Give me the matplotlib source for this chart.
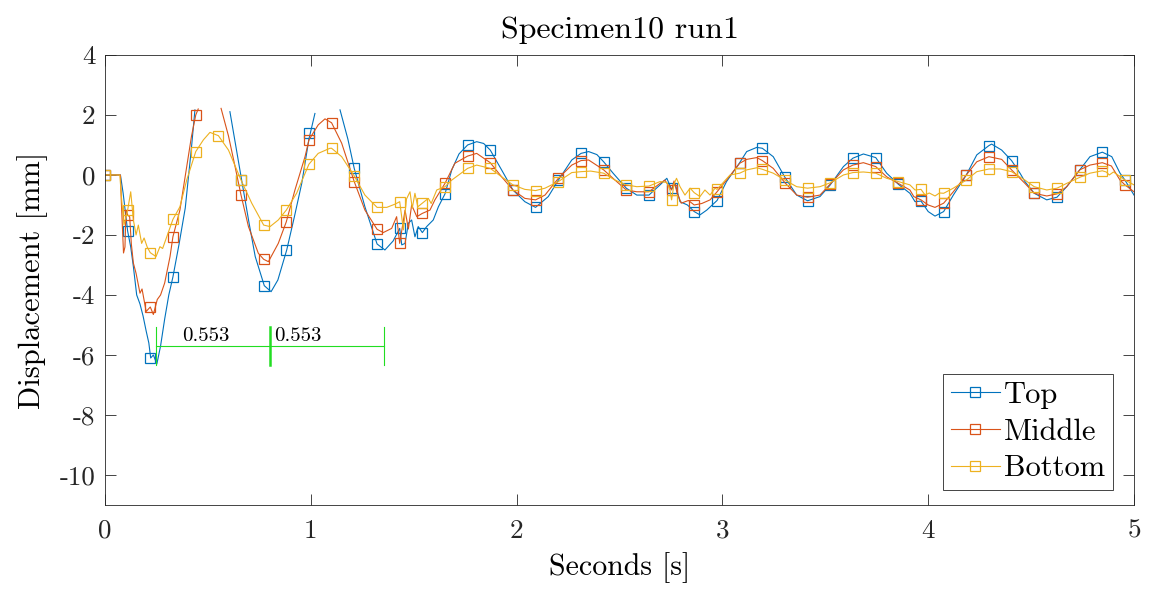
# displacement of the three gauges for Specimen10 run1

import numpy as np
import matplotlib.pyplot as plt
from matplotlib.lines import Line2D

nan = np.nan

# line data (seconds, mm), gaps where the sensor was out of range
top_t = [0, 0.075, 0.088, 0.11, 0.125, 0.138, 0.154, 0.17, 0.185, 0.2, 0.213, 0.222, 0.235, 0.252, 0.27, 0.29,
         0.31, 0.33, 0.36, 0.39, 0.405, 0.42, 0.437, 0.5, 0.607, 0.635, 0.664, 0.7, 0.73, 0.774, 0.807, 0.84,
         0.883, 0.92, 0.956, 0.991, 1.02, 1.08, 1.142, 1.18, 1.211, 1.263, 1.322, 1.36, 1.4, 1.432, 1.442,
         1.458, 1.474, 1.49, 1.506, 1.522, 1.542, 1.563, 1.595, 1.62, 1.652, 1.685, 1.72, 1.762, 1.806, 1.84,
         1.872, 1.927, 1.982, 2.04, 2.092, 2.154, 2.203, 2.268, 2.313, 2.35, 2.39, 2.423, 2.47, 2.533, 2.584,
         2.643, 2.697, 2.73, 2.753, 2.77, 2.794, 2.83, 2.863, 2.891, 2.924, 2.974, 3.02, 3.084, 3.118, 3.167,
         3.194, 3.247, 3.304, 3.361, 3.414, 3.474, 3.524, 3.588, 3.634, 3.685, 3.745, 3.798, 3.855, 3.911,
         3.936, 3.965, 4.0, 4.033, 4.075, 4.122, 4.185, 4.236, 4.295, 4.308, 4.357, 4.405, 4.446, 4.47, 4.515,
         4.576, 4.626, 4.673, 4.736, 4.786, 4.846, 4.892, 4.932, 4.956, 5.0]
top_v = [0, 0, -0.6, -1.87, -2.4, -3.06, -4.0, -4.3, -4.7, -5.2, -5.6, -6.1, -6.0, -6.3, -5.7, -4.8,
         -4.0, -3.4, -2.3, -1.1, -0.1, 0.9, 2.17, nan, 2.11, 1.0, -0.17, -1.6, -2.72, -3.69, -3.89, -3.5,
         -2.5, -1.4, -0.28, 1.2, 2.05, nan, 2.17, 1.2, 0.22, -1.06, -2.3, -2.5, -2.2, -1.78, -2.33,
         -2.28, -1.61, -1.5, -2.06, -1.72, -1.92, -1.72, -1.5, -1.06, -0.63, 0.17, 0.7, 1.0, 1.11, 1.05,
         0.83, 0.17, -0.5, -0.89, -1.08, -0.72, -0.17, 0.5, 0.72, 0.78, 0.68, 0.44, 0.05, -0.44, -0.67,
         -0.67, -0.33, -0.11, -0.48, -0.28, -0.89, -1.0, -1.22, -1.33, -1.17, -0.85, -0.22, 0.41, 0.78, 0.92,
         0.89, 0.61, -0.08, -0.67, -0.86, -0.72, -0.33, 0.28, 0.56, 0.7, 0.58, 0.06, -0.31, -0.61,
         -0.89, -0.87, -1.22, -1.37, -1.22, -0.67, 0.0, 0.67, 0.98, 1.03, 0.83, 0.48, 0.06, -0.22, -0.61,
         -0.83, -0.74, -0.39, 0.17, 0.61, 0.76, 0.61, 0.06, -0.17, -0.67]

mid_t = [0, 0.075, 0.08, 0.09, 0.097, 0.102, 0.11, 0.12, 0.128, 0.138, 0.151, 0.17, 0.18, 0.2, 0.22, 0.235,
         0.254, 0.27, 0.29, 0.316, 0.33, 0.364, 0.397, 0.42, 0.441, 0.453, 0.5, 0.564, 0.6, 0.632, 0.661,
         0.697, 0.745, 0.771, 0.794, 0.842, 0.881, 0.923, 0.972, 0.991, 1.036, 1.069, 1.101, 1.15, 1.211,
         1.263, 1.322, 1.352, 1.393, 1.417, 1.432, 1.458, 1.474, 1.49, 1.515, 1.542, 1.579, 1.603, 1.652,
         1.7, 1.762, 1.806, 1.872, 1.927, 1.982, 2.04, 2.092, 2.138, 2.203, 2.268, 2.313, 2.35, 2.423, 2.478,
         2.533, 2.584, 2.643, 2.697, 2.72, 2.753, 2.765, 2.78, 2.8, 2.835, 2.863, 2.9, 2.94, 2.974, 3.02,
         3.084, 3.118, 3.167, 3.194, 3.247, 3.304, 3.361, 3.414, 3.474, 3.524, 3.588, 3.634, 3.685, 3.745,
         3.798, 3.855, 3.911, 3.93, 3.965, 4.0, 4.033, 4.075, 4.122, 4.185, 4.236, 4.295, 4.357, 4.405,
         4.47, 4.515, 4.576, 4.626, 4.673, 4.736, 4.786, 4.846, 4.89, 4.932, 4.956, 5.0]
mid_v = [0, 0, -1.0, -2.6, -2.4, -1.17, -1.33, -1.4, -2.3, -2.94, -3.28, -3.94, -3.8, -4.55, -4.4, -4.65,
         -4.15, -4.0, -3.6, -2.72, -2.06, -1.17, 0.28, 1.28, 2.0, 2.2, nan, 2.22, 1.3, 0.28, -0.67,
         -1.72, -2.61, -2.81, -2.89, -2.28, -1.56, -0.5, 0.61, 1.17, 1.67, 1.87, 1.74, 1.06, -0.22,
         -1.17, -1.81, -1.92, -1.78, -1.39, -2.28, -1.17, -1.8, -1.0, -1.39, -1.28, -1.17, -0.83, -0.28,
         0.39, 0.63, 0.72, 0.41, -0.06, -0.5, -0.78, -0.83, -0.67, -0.11, 0.33, 0.48, 0.5, 0.17, -0.17,
         -0.5, -0.56, -0.56, -0.28, -0.17, -0.5, -0.2, -0.6, -0.94, -0.85, -1.0, -0.95, -0.83, -0.56, -0.17,
         0.39, 0.52, 0.58, 0.48, 0.22, -0.26, -0.67, -0.74, -0.67, -0.3, 0.17, 0.33, 0.41, 0.28,
         -0.06, -0.28, -0.5, -0.72, -0.83, -1.0, -1.08, -0.94, -0.56, 0.0, 0.44, 0.61, 0.52, 0.17,
         -0.28, -0.61, -0.7, -0.63, -0.39, 0.17, 0.33, 0.41, 0.3, -0.17, -0.33, -0.56]

bot_t = [0, 0.072, 0.081, 0.092, 0.11, 0.125, 0.138, 0.151, 0.162, 0.178, 0.19, 0.205, 0.22, 0.248, 0.267,
         0.28, 0.3, 0.33, 0.364, 0.397, 0.441, 0.478, 0.51, 0.551, 0.6, 0.661, 0.713, 0.771, 0.802, 0.842,
         0.881, 0.931, 0.991, 1.036, 1.093, 1.101, 1.15, 1.211, 1.263, 1.322, 1.369, 1.41, 1.432, 1.45,
         1.465, 1.482, 1.493, 1.506, 1.52, 1.542, 1.571, 1.585, 1.612, 1.652, 1.685, 1.762, 1.806, 1.872,
         1.927, 1.982, 2.04, 2.092, 2.138, 2.203, 2.268, 2.313, 2.36, 2.423, 2.478, 2.533, 2.584, 2.643,
         2.697, 2.73, 2.745, 2.753, 2.765, 2.777, 2.794, 2.818, 2.843, 2.863, 2.891, 2.915, 2.94, 2.964,
         2.974, 3.037, 3.084, 3.118, 3.167, 3.194, 3.247, 3.304, 3.361, 3.414, 3.474, 3.524, 3.588, 3.634,
         3.685, 3.745, 3.798, 3.855, 3.911, 3.936, 3.965, 3.985, 4.005, 4.033, 4.055, 4.075, 4.122, 4.185,
         4.236, 4.295, 4.35, 4.405, 4.47, 4.515, 4.576, 4.626, 4.673, 4.736, 4.786, 4.846, 4.865, 4.88,
         4.9, 4.932, 4.956, 5.0]
bot_v = [0, 0, -0.83, -1.67, -1.17, -0.56, -1.5, -2.0, -1.67, -2.28, -2.1, -2.4, -2.59, -2.72, -2.39,
         -2.45, -2.06, -1.48, -1.06, -0.17, 0.78, 1.17, 1.42, 1.31, 0.83, -0.17, -0.94, -1.67, -1.72, -1.5,
         -1.17, -0.61, 0.36, 0.72, 0.89, 0.89, 0.61, -0.03, -0.67, -1.08, -1.08, -0.97, -0.89, -1.83,
         -0.8, -0.56, -1.11, -0.61, -1.06, -0.94, -0.78, -0.95, -0.5, -0.39, -0.17, 0.22, 0.33, 0.22,
         -0.06, -0.33, -0.48, -0.52, -0.44, -0.22, 0.08, 0.11, 0.13, 0.06, -0.17, -0.33, -0.39, -0.37,
         -0.22, -0.25, -0.5, -0.83, -0.3, -0.11, -0.39, -0.67, -0.44, -0.59, -0.72, -0.5, -0.67, -0.44,
         -0.48, 0.0, 0.06, 0.17, 0.24, 0.19, 0.06, -0.17, -0.39, -0.44, -0.39, -0.26, 0.0, 0.08,
         0.1, 0.06, -0.11, -0.22, -0.33, -0.5, -0.48, -0.67, -0.6, -0.7, -0.6, -0.61, -0.44, -0.17,
         0.11, 0.2, 0.2, 0.11, -0.17, -0.39, -0.5, -0.44, -0.28, -0.08, 0.06, 0.14, 0.1, 0.0,
         0.1, -0.05, -0.17, -0.33]

# marker samples (every ~0.11 s)
mark_t = [0.000, 0.110, 0.220, 0.330, 0.441, 0.551, 0.661, 0.771, 0.881, 0.991, 1.101, 1.211, 1.322, 1.432,
          1.542, 1.652, 1.762, 1.872, 1.982, 2.092, 2.203, 2.313, 2.423, 2.533, 2.643, 2.753, 2.863, 2.974,
          3.084, 3.194, 3.304, 3.414, 3.524, 3.634, 3.745, 3.855, 3.965, 4.075, 4.185, 4.295, 4.405, 4.515,
          4.626, 4.736, 4.846, 4.956]
top_m = [0, -1.87, -6.1, -3.4, nan, nan, -0.17, -3.69, -2.5, 1.39, nan, 0.22, -2.3, -1.78, -1.92, -0.63,
         1.0, 0.83, -0.5, -1.08, -0.17, 0.72, 0.44, -0.44, -0.67, -0.45, -1.22, -0.87, 0.41, 0.89, -0.08,
         -0.86, -0.33, 0.56, 0.58, -0.31, -0.87, -1.22, 0.0, 0.98, 0.48, -0.61, -0.74, 0.17, 0.76, -0.17]
mid_m = [0, -1.33, -4.4, -2.06, 2.0, nan, -0.67, -2.81, -1.56, 1.17, 1.74, -0.22, -1.81, -2.28, -1.28, -0.28,
         0.63, 0.41, -0.5, -0.83, -0.11, 0.48, 0.17, -0.5, -0.56, -0.5, -1.0, -0.56, 0.39, 0.48, -0.26,
         -0.74, -0.3, 0.33, 0.28, -0.28, -0.83, -0.94, 0.0, 0.61, 0.17, -0.61, -0.63, 0.17, 0.41, -0.33]
bot_m = [0, -1.17, -2.59, -1.48, 0.78, 1.31, -0.17, -1.67, -1.17, 0.36, 0.89, -0.03, -1.08, -0.89, -0.94,
         -0.39, 0.22, 0.22, -0.33, -0.52, -0.22, 0.11, 0.06, -0.33, -0.37, -0.83, -0.59, -0.48, 0.06, 0.19,
         -0.17, -0.44, -0.26, 0.08, 0.06, -0.22, -0.48, -0.61, -0.17, 0.2, 0.11, -0.39, -0.44, -0.08, 0.14,
         -0.17]

# period markers
period_t = [0.248, 0.802, 1.356]
period_y = -5.69
period_lbl = ['0.553', '0.553']
period_lbl_t = [0.374, 0.82]

names = ['Top', 'Middle', 'Bottom']
colors = ['#0072BD', '#D95319', '#EDB120']

plt.rcParams['font.family'] = 'cmr10'
plt.rcParams['mathtext.fontset'] = 'cm'
plt.rcParams['axes.unicode_minus'] = False

fig = plt.figure(figsize=(11.5, 5.93), dpi=100)
ax = fig.add_axes([0.0913, 0.1484, 0.8948, 0.7589])

series = [(top_t, top_v, top_m), (mid_t, mid_v, mid_m), (bot_t, bot_v, bot_m)]
handles = []
for (t, v, m), c, n in zip(series, colors, names):
    ax.plot(t, v, color=c, lw=0.8)
    ax.plot(mark_t, m, ls='none', marker='s', ms=6.5, mfc='none', mec=c, mew=0.9)
    handles.append(Line2D([], [], color=c, lw=0.8, marker='s', ms=6.5, mfc='none', mec=c, mew=0.9))

# green period bars
green = '#22DD22'
ax.plot([period_t[0], period_t[-1]], [period_y, period_y], color=green, lw=0.8)
for i, pt in enumerate(period_t):
    ax.plot([pt, pt], [period_y + 0.62, period_y - 0.64], color=green, lw=1.8 if i == 1 else 0.8)
for lt, lb in zip(period_lbl_t, period_lbl):
    ax.text(lt, period_y + 0.03, lb, fontsize=15, va='bottom', ha='left')

ax.set_xlim(0, 5)
ax.set_ylim(-11, 4)
ax.set_xticks([0, 1, 2, 3, 4, 5])
ax.set_yticks([4, 2, 0, -2, -4, -6, -8, -10])
ax.tick_params(direction='in', labelsize=19.5, length=8, width=0.6, top=True, right=True,
               color='#262626', labelcolor='#262626')
ax.tick_params(axis='x', pad=10)
ax.tick_params(axis='y', pad=7)
for s in ax.spines.values():
    s.set_linewidth(0.6)
    s.set_color('#262626')

ax.set_title('Specimen10 run1', fontsize=23, pad=12)
ax.set_xlabel('Seconds [s]', fontsize=21.5, labelpad=7)
ax.set_ylabel('Displacement [mm]', fontsize=22, labelpad=8)

leg = ax.legend(handles, names, loc='lower right', bbox_to_anchor=(0.9796, 0.0333), borderaxespad=0,
                fontsize=22, fancybox=False, framealpha=1, edgecolor='#262626', handlelength=1.6,
                handletextpad=0.15, borderpad=0.25, labelspacing=0.3)
leg.get_frame().set_linewidth(0.6)

fig.savefig('out.png', dpi=100)
